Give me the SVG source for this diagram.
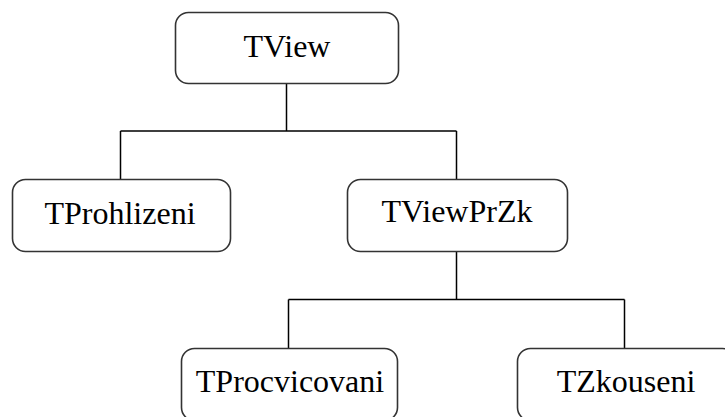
<svg xmlns="http://www.w3.org/2000/svg" width="725" height="417" viewBox="0 0 725 417">
<style>
.box{fill:#fff;stroke:#333;stroke-width:1.6}
.lbl{font-family:"Liberation Serif","Times New Roman",serif;font-size:32px;fill:#000;text-anchor:middle}
.con{fill:none;stroke:#000;stroke-width:1.5}
</style>
<rect width="725" height="417" fill="#fff"/>
<g id="connectors">
<path class="con" d="M286.5 83 V131 M120.5 131 H456.5 M120.5 131 V179 M456.5 131 V179"/>
<path class="con" d="M456.5 252 V299.5 M288.5 299.5 H624.5 M288.5 299.5 V348 M624.5 299.5 V348"/>
</g>
<g id="TView">
<rect class="box" x="175.5" y="12.5" width="223" height="71" rx="13"/>
<text class="lbl" x="287" y="57">TView</text>
</g>
<g id="TProhlizeni">
<rect class="box" x="12.5" y="179.5" width="218" height="72" rx="13"/>
<text class="lbl" x="120" y="224">TProhlizeni</text>
</g>
<g id="TViewPrZk">
<rect class="box" x="347.5" y="179.5" width="220" height="72" rx="13"/>
<text class="lbl" x="457" y="222">TViewPrZk</text>
</g>
<g id="TProcvicovani">
<rect class="box" x="181.5" y="348.5" width="216" height="72" rx="13"/>
<text class="lbl" x="290" y="392">TProcvicovani</text>
</g>
<g id="TZkouseni">
<rect class="box" x="517.5" y="348.5" width="218" height="72" rx="13"/>
<text class="lbl" x="626" y="392">TZkouseni</text>
</g>
</svg>
